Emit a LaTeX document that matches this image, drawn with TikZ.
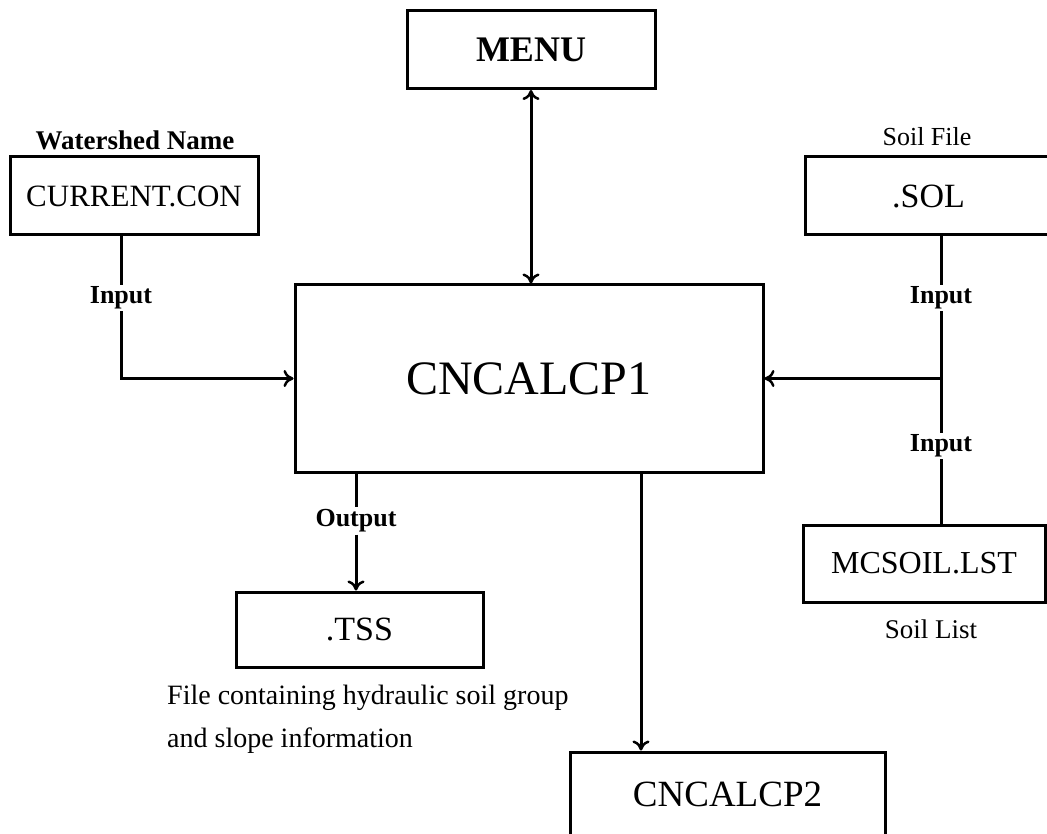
\documentclass[tikz,border=0pt]{standalone}
\usepackage{fontspec}
\setmainfont{Liberation Serif}
\usepackage{tikz}
\usetikzlibrary{arrows.meta}
\tikzstyle{filebox} = [rectangle, minimum width=248pt, minimum height=78pt, inner sep=0pt, text centered, draw=black, line width=3pt]
\tikzstyle{note} = [inner sep=2pt, text centered]
\tikzstyle{arrow} = [line width=3pt, -{Computer Modern Rightarrow[length=10pt,width=17pt,line width=2.5pt]}]
\tikzstyle{twoway} = [line width=3pt, {Computer Modern Rightarrow[length=10pt,width=17pt,line width=2.5pt]}-{Computer Modern Rightarrow[length=10pt,width=17pt,line width=2.5pt]}]
\tikzstyle{wire} = [line width=3pt]

\begin{document}
\begin{tikzpicture}[x=1pt, y=-1pt]
    \useasboundingbox (0,0) rectangle (1047,834);
    % Nodes
    \node (calcone) [filebox, minimum width=468pt, minimum height=187pt] at (529,378.5) {\fontsize{48}{52}\selectfont CNCALCP1};
    \node (menu) [filebox] at (531,49.5) {\fontsize{36}{40}\selectfont\bfseries MENU};
    \node (current) [filebox] at (134,196) {\fontsize{31}{36}\selectfont CURRENT.CON};
    \node (sol) [filebox, minimum width=247pt, minimum height=78pt] at (928.5,196) {\fontsize{34}{38}\selectfont .SOL};
    \node (tss) [filebox, minimum width=247pt, minimum height=75pt] at (359.5,629.5) {\fontsize{34}{38}\selectfont .TSS};
    \node (mcsoil) [filebox, minimum width=242pt, minimum height=77pt] at (924,563.5) {\fontsize{32}{36}\selectfont MCSOIL.LST};
    \node (calctwo) [filebox, minimum width=315pt, minimum height=84pt] at (727.5,794) {\fontsize{37}{40}\selectfont CNCALCP2};
    % Labels
    \node (wname) [note] at (135,140) {\fontsize{27}{30}\selectfont\bfseries Watershed Name};
    \node (sfile) [note] at (927,137) {\fontsize{26}{30}\selectfont Soil File};
    \node (slist) [note] at (931,629) {\fontsize{27}{30}\selectfont Soil List};
    \node (inleft) [note] at (121,298) {\fontsize{26}{30}\selectfont\bfseries Input};
    \node (inright) [note] at (941,298) {\fontsize{26}{30}\selectfont\bfseries Input};
    \node (inlow) [note] at (941,446) {\fontsize{26}{30}\selectfont\bfseries Input};
    \node (outlbl) [note] at (356,521) {\fontsize{26}{30}\selectfont\bfseries Output};
    \node (tssnote) [note, anchor=west, align=left, font=\fontsize{28}{43}\selectfont] at (165,719) {File containing hydraulic soil group\\and slope information};
    \coordinate (junction) at (941,378.5);
    % Arrows
    \draw [twoway] (menu.south) -- (menu.south |- calcone.north);
    \draw [wire] (current.south -| inleft) -- (inleft);
    \draw [arrow] (inleft) |- (calcone.west);
    \draw [wire] (sol.south -| junction) -- (inright);
    \draw [wire] (inright) -- (inlow);
    \draw [wire] (inlow) -- (mcsoil.north -| junction);
    \draw [arrow] (junction) -- (calcone.east);
    \draw [wire] (calcone.south -| outlbl) -- (outlbl);
    \draw [arrow] (outlbl) -- (tss.north -| outlbl);
    \draw [arrow] ([xshift=112pt]calcone.south) -- ([xshift=112pt]calcone.south |- calctwo.north);
\end{tikzpicture}
\end{document}
